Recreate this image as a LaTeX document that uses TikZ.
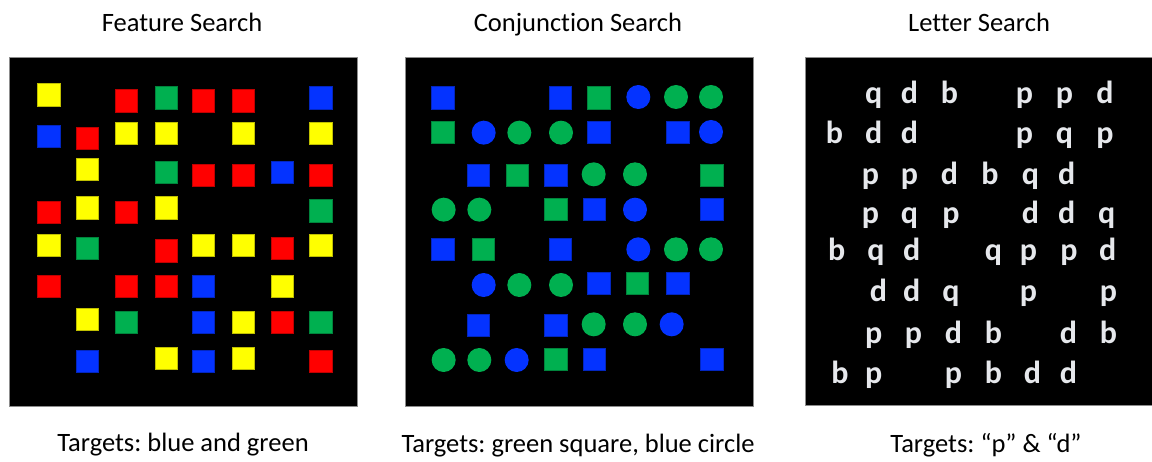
\documentclass[tikz,border=0pt]{standalone}
\usepackage{fontspec}
\setmainfont{Carlito}[Ligatures={TeX,NoCommon}]
\frenchspacing
\definecolor{cY}{HTML}{FFFF00}
\definecolor{cR}{HTML}{FF0000}
\definecolor{cG}{HTML}{00B050}
\definecolor{cB}{HTML}{0433FF}
\definecolor{letterc}{HTML}{E6E8EC}
\tikzset{
  panel/.style={fill=black, draw=black!45, line width=0.8pt},
  sq/.style={rectangle, minimum size=22.3pt, inner sep=0pt, fill=#1, draw=#1!75!black, line width=0.6pt},
  ci/.style={circle, minimum size=24pt, inner sep=0pt, fill=#1, draw=none},
  lett/.style={anchor=base, inner sep=0pt, text=letterc, font=\fontsize{32}{32}\selectfont\bfseries},
  title/.style={anchor=base, inner sep=0pt, font=\fontsize{26.5}{26.5}\selectfont},
}
\begin{document}
\begin{tikzpicture}[x=1pt, y=-1pt]
\path[use as bounding box, fill=white] (0,0) rectangle (1152,462);
% panels
\path[panel] (9,57) rectangle (357,406);
\path[panel] (405,57) rectangle (753,406);
\path[panel] (805,57) rectangle (1153,405);
% titles
\node[title] (t1) at (182,32) {Feature Search};
\node[title] (t2) at (578,32) {Conjunction Search};
\node[title] (t3) at (979,32) {Letter Search};
\node[title] (c1) at (183,451) {Targets: blue and green};
\node[title] (c2) at (578,452) {Targets: green square, blue circle};
\node[title] (c3) at (986,452) {Targets: “p” \& “d”};
% feature search
\begin{scope}[shift={(0,50)}, x=1pt/3, y=-1pt/3]
\foreach \px/\py/\c [count=\i] in {
 146/134/cY, 378/152/cR, 498/143/cG, 610/152/cR, 730/152/cR, 962/143/cB,
 146/259/cB, 262/264/cR, 378/250/cY, 498/250/cY, 730/250/cY, 962/250/cY,
 262/357/cY, 498/366/cG, 610/375/cR, 730/375/cR, 846/366/cB, 962/375/cR,
 146/486/cR, 262/473/cY, 378/486/cR, 498/473/cY, 962/482/cG,
 146/585/cY, 262/594/cG, 498/602/cR, 610/585/cY, 730/585/cY, 846/594/cR, 962/585/cY,
 146/709/cR, 378/709/cR, 498/709/cR, 610/709/cB, 846/709/cY,
 262/808/cY, 378/817/cG, 610/817/cB, 730/817/cY, 846/817/cR, 962/817/cG,
 262/933/cB, 498/924/cY, 610/933/cB, 730/924/cY, 962/933/cR}
  \node[sq=\c] (f\i) at (\px,\py) {};
\end{scope}
% conjunction search
\begin{scope}[shift={(395,50)}, x=1pt/3, y=-1pt/3]
\foreach \px/\py/\c/\s [count=\i] in {
 143/143/cB/sq, 495/143/cB/sq, 611/143/cG/sq, 730/141/cB/ci, 843/141/cG/ci, 948/141/cG/ci,
 143/246/cG/sq, 266/248/cB/ci, 373/248/cG/ci, 498/248/cG/ci, 611/246/cB/sq, 848/246/cB/sq, 948/246/cB/ci,
 250/375/cB/sq, 366/375/cG/sq, 482/375/cB/sq, 596/373/cG/ci, 720/373/cG/ci, 950/375/cG/sq,
 146/479/cG/ci, 253/479/cG/ci, 482/477/cG/sq, 598/477/cB/sq, 720/479/cB/ci, 950/477/cB/sq,
 143/598/cB/sq, 264/598/cG/sq, 495/598/cB/sq, 730/598/cB/ci, 843/598/cG/ci, 948/598/cG/ci,
 266/705/cB/ci, 373/705/cG/ci, 498/705/cG/ci, 611/700/cB/sq, 727/700/cG/sq, 848/700/cB/sq,
 250/825/cB/sq, 482/825/cB/sq, 596/823/cG/ci, 720/823/cG/ci, 830/823/cB/ci,
 146/930/cG/ci, 253/930/cG/ci, 365/930/cB/ci, 482/928/cG/sq, 598/928/cB/sq, 950/928/cB/sq}
  \node[\s=\c] (g\i) at (\px,\py) {};
\end{scope}
% letter search
\begin{scope}[shift={(795,50)}, x=1pt/3, y=-1pt/3]
\foreach \px/\py/\l [count=\i] in {
 236/160/q, 343/160/d, 463/160/b, 688/160/p, 808/160/p, 930/160/d,
 118/280/b, 236/280/d, 343/280/d, 688/280/p, 808/280/q, 930/280/p,
 226/405/p, 343/405/p, 463/405/d, 585/405/b, 706/405/q, 815/405/d,
 226/520/p, 343/520/q, 468/520/p, 706/520/d, 815/520/d, 935/520/q,
 125/632/b, 243/632/q, 350/632/d, 595/632/q, 700/632/p, 822/632/p, 938/632/d,
 250/755/d, 350/755/d, 468/755/q, 700/755/p, 940/755/p,
 236/880/p, 355/880/p, 475/880/d, 595/880/b, 820/880/d, 940/880/b,
 135/1000/b, 236/1000/p, 475/1000/p, 595/1000/b, 712/1000/d, 820/1000/d}
  \node[lett] (l\i) at (\px,\py) {\l};
\end{scope}
\end{tikzpicture}
\end{document}
